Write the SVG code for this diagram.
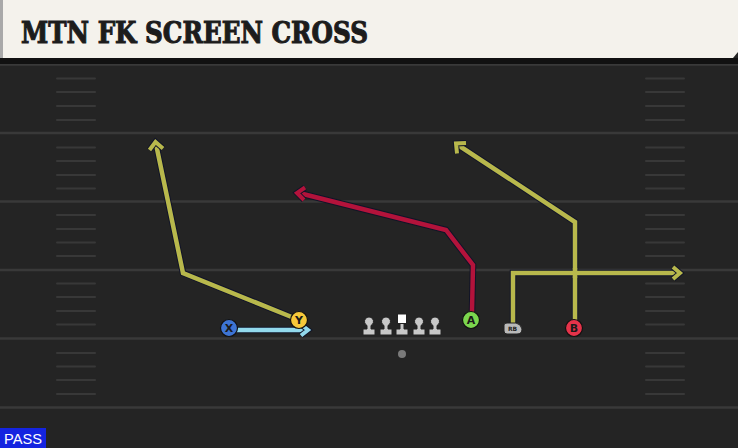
<svg xmlns="http://www.w3.org/2000/svg" width="738" height="448" viewBox="0 0 738 448">
<defs>
<style>
.yl{stroke:#393939;stroke-width:2.5}
.hm{stroke:#383838;stroke-width:2;stroke-linecap:round}
.under{fill:none;stroke:#111428;stroke-width:6.5;stroke-linejoin:miter;stroke-linecap:butt}
.rt{fill:none;stroke-width:4.5;stroke-linejoin:miter;stroke-linecap:butt}
.ah{fill:none;stroke-width:4;stroke-linecap:butt;stroke-linejoin:miter}
.ahu{fill:none;stroke:#111428;stroke-width:6;stroke-linejoin:miter}
.pl{stroke:#111;stroke-width:1.2}
.lbl{font-family:"DejaVu Sans","Liberation Sans",sans-serif;font-weight:bold;font-size:11px;fill:#1a1a1a;text-anchor:middle}
.ol{fill:#c8c8c8;stroke:#222;stroke-width:1}
</style>
</defs>
<rect x="0" y="0" width="738" height="448" fill="#242424"/>
<g id="field">
<line class="yl" x1="0" y1="64.5" x2="738" y2="64.5"/>
<line class="yl" x1="0" y1="133" x2="738" y2="133"/>
<line class="yl" x1="0" y1="201.5" x2="738" y2="201.5"/>
<line class="yl" x1="0" y1="270" x2="738" y2="270"/>
<line class="yl" x1="0" y1="338.5" x2="738" y2="338.5"/>
<line class="yl" x1="0" y1="407.5" x2="738" y2="407.5"/>
<g id="hashL">
<line class="hm" x1="57" y1="78.5" x2="95" y2="78.5"/><line class="hm" x1="57" y1="92" x2="95" y2="92"/><line class="hm" x1="57" y1="106" x2="95" y2="106"/><line class="hm" x1="57" y1="120" x2="95" y2="120"/>
<line class="hm" x1="57" y1="147.5" x2="95" y2="147.5"/><line class="hm" x1="57" y1="161" x2="95" y2="161"/><line class="hm" x1="57" y1="175" x2="95" y2="175"/><line class="hm" x1="57" y1="188.5" x2="95" y2="188.5"/>
<line class="hm" x1="57" y1="215" x2="95" y2="215"/><line class="hm" x1="57" y1="229" x2="95" y2="229"/><line class="hm" x1="57" y1="242.5" x2="95" y2="242.5"/><line class="hm" x1="57" y1="256" x2="95" y2="256"/>
<line class="hm" x1="57" y1="283.5" x2="95" y2="283.5"/><line class="hm" x1="57" y1="297" x2="95" y2="297"/><line class="hm" x1="57" y1="311" x2="95" y2="311"/><line class="hm" x1="57" y1="324.5" x2="95" y2="324.5"/>
<line class="hm" x1="57" y1="353" x2="95" y2="353"/><line class="hm" x1="57" y1="366.5" x2="95" y2="366.5"/><line class="hm" x1="57" y1="380" x2="95" y2="380"/><line class="hm" x1="57" y1="394" x2="95" y2="394"/>
</g>
<use href="#hashL" x="589"/>
</g>
<g id="header">
<rect x="0" y="58" width="738" height="6" fill="#111"/>
<polygon points="0,0 738,0 738,52 733,58 0,58" fill="#f4f2ec"/>
<rect x="0" y="0" width="3" height="58" fill="#a9a9a9"/>
<text x="21" y="43" font-family="'DejaVu Serif','Liberation Serif',serif" font-weight="bold" font-size="29" fill="#1c1c1c" stroke="#1c1c1c" stroke-width="1.1" textLength="347" lengthAdjust="spacingAndGlyphs">MTN FK SCREEN CROSS</text>
</g>
<g id="connectors">
<polyline class="under" points="299,320 183,273 156,144"/>
<polyline class="rt" stroke="#b8b84c" points="299,320 183,273 156,144"/>
<polyline class="ahu" points="149.5,150 155.5,142 163,148.5"/>
<polyline class="ah" stroke="#b8b84c" points="149.5,150 155.5,142 163,148.5"/>
<polyline class="under" points="236,330 306,330"/>
<polyline class="rt" stroke="#92d9ec" points="236,330 306,330"/>
<polyline class="ahu" points="301,324.5 308,330 301,335.5"/>
<polyline class="ah" stroke="#92d9ec" points="301,324.5 308,330 301,335.5"/>
<polyline class="under" points="472,312 473,265 446,230 299,193"/>
<polyline class="rt" stroke="#b3133b" points="472,312 473,265 446,230 299,193"/>
<polyline class="ahu" points="305,187.5 297,193 304,200"/>
<polyline class="ah" stroke="#b3133b" points="305,187.5 297,193 304,200"/>
<polyline class="under" points="575,320 575,222 458,145"/>
<polyline class="rt" stroke="#b8b84c" points="575,320 575,222 458,145"/>
<polyline class="ahu" points="457,153.5 456,143.5 466,143"/>
<polyline class="ah" stroke="#b8b84c" points="457,153.5 456,143.5 466,143"/>
<polyline class="under" points="513,323 513,273 678,273"/>
<polyline class="rt" stroke="#b8b84c" points="513,323 513,273 678,273"/>
<polyline class="ahu" points="673,267 680,273 673,279"/>
<polyline class="ah" stroke="#b8b84c" points="673,267 680,273 673,279"/>
<polyline class="rt" stroke="#b8b84c" points="575,268 575,278"/>
</g>
<g id="X"><circle class="pl" cx="229" cy="328" r="8.5" fill="#3d74d4"/><text class="lbl" x="229" y="332">X</text></g>
<g id="Y"><circle class="pl" cx="299" cy="320" r="8.5" fill="#f6c83a"/><text class="lbl" x="299" y="324">Y</text></g>
<g id="A"><circle class="pl" cx="471" cy="320" r="8.5" fill="#7bd64e"/><text class="lbl" x="471" y="324">A</text></g>
<g id="B"><circle class="pl" cx="574" cy="328" r="8.5" fill="#e5334a"/><text class="lbl" x="574" y="332">B</text></g>
<g id="RB"><path d="M504,325 Q504,323 507,323 L516,323 Q521,324 522,329 Q522,334 517,334 L507,334 Q504,334 504,331 Z" fill="#b9b9b9" stroke="#222" stroke-width="1"/><text x="512.5" y="331" font-family="'DejaVu Sans',sans-serif" font-size="6" font-weight="bold" fill="#222" text-anchor="middle">RB</text></g>
<g id="OL1"><path class="ol" d="M363,329 L367,329 L367,325.5 A4.5,4.5 0 1 1 371,325.5 L371,329 L375,329 L375,335 L363,335 Z"/></g>
<g id="OL2"><path class="ol" d="M380,329 L384,329 L384,325.5 A4.5,4.5 0 1 1 388,325.5 L388,329 L392,329 L392,335 L380,335 Z"/></g>
<g id="C"><path class="ol" d="M396,329 L400,329 L400,324 L398,324 L398,314 L406,314 L406,324 L404,324 L404,329 L408,329 L408,335 L396,335 Z"/><rect x="397.5" y="314" width="9" height="9.5" fill="#fff" stroke="#222" stroke-width="1"/></g>
<g id="OL4"><path class="ol" d="M413,329 L417,329 L417,325.5 A4.5,4.5 0 1 1 421,325.5 L421,329 L425,329 L425,335 L413,335 Z"/></g>
<g id="OL5"><path class="ol" d="M429,329 L433,329 L433,325.5 A4.5,4.5 0 1 1 437,325.5 L437,329 L441,329 L441,335 L429,335 Z"/></g>
<g id="ball"><circle cx="402" cy="354" r="4" fill="#7a7a7a"/></g>
<g id="pass"><rect x="0" y="428" width="46" height="20" fill="#1424e0"/><text x="23" y="444" font-family="'Liberation Sans',Arial,sans-serif" font-size="15" fill="#fff" text-anchor="middle" textLength="38" lengthAdjust="spacingAndGlyphs">PASS</text></g>
</svg>
